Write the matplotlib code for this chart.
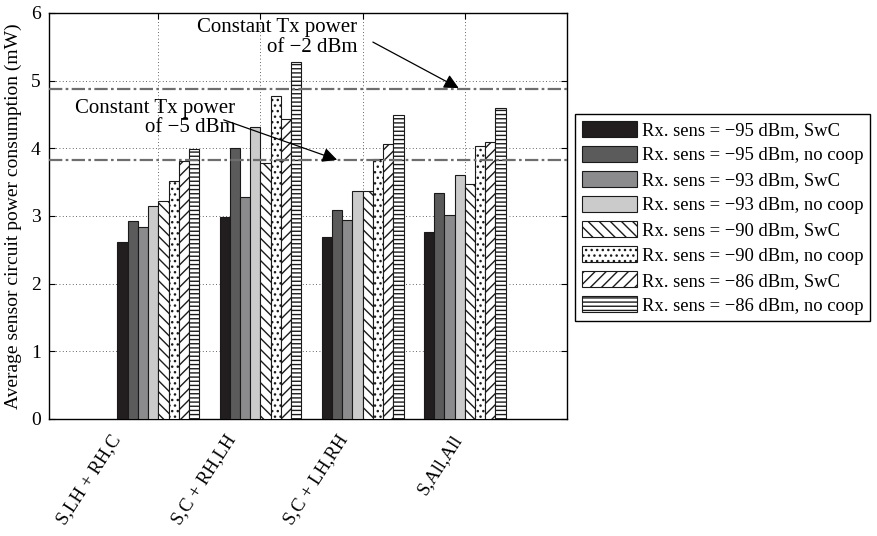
import matplotlib
matplotlib.use('Agg')
import matplotlib.pyplot as plt
import numpy as np

plt.rcParams['font.family'] = ['Liberation Serif', 'DejaVu Serif']
plt.rcParams['hatch.linewidth'] = 1.0

# ---- data ----
groups = ['S,LH + RH,C', 'S,C + RH,LH', 'S,C + LH,RH', 'S,All,All']
series = ['Rx. sens = \u221295 dBm, SwC', 'Rx. sens = \u221295 dBm, no coop',
          'Rx. sens = \u221293 dBm, SwC', 'Rx. sens = \u221293 dBm, no coop',
          'Rx. sens = \u221290 dBm, SwC', 'Rx. sens = \u221290 dBm, no coop',
          'Rx. sens = \u221286 dBm, SwC', 'Rx. sens = \u221286 dBm, no coop']
sens95_swc    = [2.61, 2.98, 2.69, 2.77]
sens95_nocoop = [2.92, 4.00, 3.09, 3.34]
sens93_swc    = [2.84, 3.28, 2.94, 3.02]
sens93_nocoop = [3.15, 4.32, 3.37, 3.61]
sens90_swc    = [3.22, 3.79, 3.37, 3.47]
sens90_nocoop = [3.51, 4.78, 3.84, 4.04]
sens86_swc    = [3.81, 4.43, 4.07, 4.10]
sens86_nocoop = [3.99, 5.28, 4.49, 4.59]
values = [sens95_swc, sens95_nocoop, sens93_swc, sens93_nocoop,
          sens90_swc, sens90_nocoop, sens86_swc, sens86_nocoop]
tx_minus2 = 4.87   # constant Tx power of -2 dBm
tx_minus5 = 3.83   # constant Tx power of -5 dBm

# ---- styles ----
fills = ['#221e1f', '#5b5b5b', '#8b8b8d', '#cbcbcb',
         'white', 'white', 'white', 'white']
hatches = [None, None, None, None, '\\\\\\', '...', '///', '----']

fig = plt.figure(figsize=(8.77, 5.36), dpi=100)
ax = fig.add_axes([0.0559, 0.2183, 0.5906, 0.7575])

x = np.arange(1, len(groups) + 1)
w = 0.1
for i, vals in enumerate(values):
    ax.bar(x + (i - 3.5) * w, vals, width=w, color=fills[i], hatch=hatches[i],
           edgecolor='#1a1a1a', linewidth=0.8, label=series[i], zorder=3)

dashdot = (0, (6, 1.5, 1.2, 1.5))
ax.axhline(tx_minus2, color='#6e6e6e', lw=1.6, ls=dashdot, zorder=4)
ax.axhline(tx_minus5, color='#6e6e6e', lw=1.6, ls=dashdot, zorder=4)

ax.set_xlim(-0.07, 5.0)
ax.set_ylim(0, 6)
ax.set_yticks(range(0, 7))
ax.set_xticks(x)
ax.set_xticklabels([])
# rotated group labels, nudged left like in the original figure
shifts = [48, 36, 26, 14]
for xi, name, s in zip(x, groups, shifts):
    ax.annotate(name, xy=(xi, 0), xycoords=('data', 'axes fraction'),
                xytext=(-s, -13), textcoords='offset pixels',
                rotation=57, ha='right', va='top', rotation_mode='anchor',
                fontsize=13.5, annotation_clip=False)

ax.tick_params(axis='both', direction='in', top=True, right=True, length=4,
               labelsize=14, pad=6)
ax.grid(True, linestyle=(0, (1, 3)), color='#333333', linewidth=0.6, zorder=0)
ax.set_axisbelow(True)
for sp in ax.spines.values():
    sp.set_linewidth(1.0)
ax.set_ylabel('Average sensor circuit power consumption (mW)', fontsize=14, labelpad=6)

arrow = dict(arrowstyle='-|>', color='black', lw=0.9, mutation_scale=22,
             shrinkA=0, shrinkB=0)
ax.annotate('', xy=(3.94, 4.89), xytext=(3.10, 5.57), arrowprops=arrow, zorder=6)
ax.text(2.95, 5.64, 'Constant Tx power\nof \u22122 dBm', ha='right', va='center',
        fontsize=15, linespacing=1.05, zorder=6)
ax.annotate('', xy=(2.75, 3.83), xytext=(1.64, 4.42), arrowprops=arrow, zorder=6)
ax.text(1.755, 4.45, 'Constant Tx power\nof \u22125 dBm', ha='right', va='center',
        fontsize=15, linespacing=1.05, zorder=6)

leg = fig.legend(loc='upper left', bbox_to_anchor=(0.6557, 0.7873),
                 borderaxespad=0, fontsize=13.4, handlelength=3.0, handleheight=0.95,
                 handletextpad=0.25, labelspacing=0.36, borderpad=0.35,
                 fancybox=False, framealpha=1, edgecolor='black')
leg.get_frame().set_linewidth(1.0)

fig.savefig('out.png', dpi=100)
